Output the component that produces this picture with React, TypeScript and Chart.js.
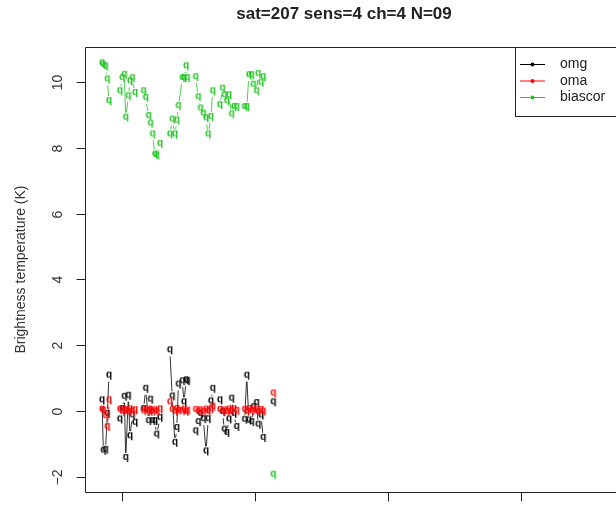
import React, { useEffect, useRef } from "react";
import { Chart, registerables } from "chart.js";

Chart.register(...registerables);

const titleText = "sat=207 sens=4 ch=4 N=09";
const yAxisTitle = "Brightness temperature (K)";
const yTicks = [-2, 0, 2, 4, 6, 8, 10];
const yTickLabels = ["\u22122", "0", "2", "4", "6", "8", "10"];
const xTicks = [0, 5, 10, 15];
const xTickLabels = ["0", "5", "10", "15"];
const seriesNames = ["omg", "oma", "biascor"];
const seriesColors = ["#000000", "#ff0000", "#1fc41f"];

// observation time (days); null values in the series below break the lines between passes
const obsDay = [
  -0.75, -0.70, -0.62, -0.55, -0.49, -0.30,
  -0.08, 0.01, 0.09, 0.14, 0.24, 0.30, 0.39, 0.49, 0.65,
  0.81, 0.89, 1.00, 1.07, 1.15, 1.24, 1.30, 1.43, 1.60,
  1.80, 1.89, 1.99, 2.06, 2.12, 2.27, 2.33, 2.41, 2.46, 2.60,
  2.77, 2.87, 2.95, 3.06, 3.16, 3.24, 3.34, 3.41, 3.55,
  3.68, 3.78, 3.85, 3.94, 4.02, 4.12, 4.21, 4.31, 4.45,
  4.61, 4.69, 4.77, 4.87, 4.94, 5.06, 5.12, 5.23, 5.31, 5.50,
  5.69,
];

const omg = [
  0.31, -1.22, -1.19, -0.10, 1.06, null,
  -0.27, 0.05, 0.42, -1.44, 0.45, -0.78, -0.15, -0.37, null,
  0.05, 0.66, -0.32, 0.33, -0.32, -0.32, -0.73, -0.22, null,
  1.83, 0.43, -0.98, -0.53, 0.79, 0.89, 0.25, 0.92, 0.89, null,
  -0.63, -0.35, -0.10, -0.26, -1.24, -0.26, 0.28, 0.66, null,
  0.31, -0.05, -0.58, -0.68, -0.27, 0.36, -0.10, -0.50, null,
  -0.28, 1.06, -0.30, -0.35, 0.10, 0.23, -0.43, -0.15, -0.83, null,
  0.25,
];

const oma = [
  0.03, 0.00, -0.17, -0.50, 0.31, null,
  0.03, -0.04, 0.02, 0.00, -0.03, 0.04, -0.02, 0.01, null,
  -0.02, 0.03, -0.01, 0.02, -0.04, 0.01, -0.03, 0.04, null,
  0.25, 0.02, -0.03, 0.05, 0.00, -0.02, 0.03, -0.04, 0.00, null,
  0.02, -0.03, 0.01, -0.04, 0.03, -0.02, 0.05, 0.12, null,
  0.02, -0.03, 0.01, -0.04, 0.03, -0.02, 0.04, -0.01, null,
  0.02, -0.03, 0.05, -0.02, 0.03, 0.01, -0.04, 0.02, -0.03, null,
  0.52,
];

const biascor = [
  10.55, 10.50, 10.45, 10.06, 9.40, null,
  9.70, 10.10, 10.20, 8.90, 9.55, 10.00, 10.10, 9.65, null,
  9.70, 9.50, 8.95, 8.72, 8.39, 7.78, 7.75, 8.10, null,
  8.39, 8.84, 8.39, 8.81, 9.25, 10.10, 10.10, 10.46, 10.10, null,
  10.13, 9.52, 9.18, 9.02, 8.88, 8.39, 8.92, 9.70, null,
  9.28, 9.78, 9.58, 9.40, 9.58, 9.00, 9.22, 9.22, null,
  9.22, 9.22, 10.19, 10.19, 9.90, 9.70, 10.23, 9.96, 10.13, null,
  -1.95,
];

const seriesValues = [omg, oma, biascor];

const FONT = '"Liberation Sans", Arial, Helvetica, sans-serif';

function makeQ(color: string): HTMLCanvasElement {
  const c = document.createElement("canvas");
  c.width = 8;
  c.height = 11;
  const g = c.getContext("2d")!;
  g.fillStyle = color;
  g.font = `bold 10px ${FONT}`;
  g.textAlign = "center";
  g.textBaseline = "alphabetic";
  g.fillText("q", 4, 7.2);
  return c;
}

// R "type = b": segments between consecutive points, with a gap around each point
const gapLinePlugin = {
  id: "gapLines",
  beforeDatasetsDraw(chart: any) {
    const { ctx, chartArea: a } = chart;
    const gap = 5.5;
    ctx.save();
    ctx.beginPath();
    ctx.rect(a.left, a.top, a.right - a.left, a.bottom - a.top);
    ctx.clip();
    ctx.lineWidth = 0.8;
    [2, 0, 1].forEach((di) => {
      const meta = chart.getDatasetMeta(di);
      const pts = meta.data;
      ctx.strokeStyle = seriesColors[di];
      for (let j = 0; j < pts.length - 1; j++) {
        const p = pts[j];
        const q = pts[j + 1];
        if (p.skip || q.skip) continue;
        const dx = q.x - p.x;
        const dy = q.y - p.y;
        const len = Math.hypot(dx, dy);
        if (len <= 2 * gap) continue;
        const ux = dx / len;
        const uy = dy / len;
        ctx.beginPath();
        ctx.moveTo(p.x + ux * gap, p.y + uy * gap);
        ctx.lineTo(q.x - ux * gap, q.y - uy * gap);
        ctx.stroke();
      }
    });
    ctx.restore();
  },
};

const decorPlugin = {
  id: "rdecor",
  afterDraw(chart: any) {
    const { ctx, chartArea: a, scales } = chart;
    const xs = scales.x;
    const ys = scales.y;
    const L = Math.round(a.left) + 0.5;
    const T = Math.round(a.top) + 0.5;
    const R = Math.round(a.right) + 0.5;
    const B = Math.round(a.bottom) + 0.5;
    ctx.save();
    ctx.strokeStyle = "#222";
    ctx.lineWidth = 1;
    ctx.beginPath();
    ctx.moveTo(L, T);
    ctx.lineTo(R, T);
    ctx.lineTo(R, B);
    ctx.lineTo(L, B);
    ctx.closePath();
    ctx.stroke();

    ctx.fillStyle = "#333";
    ctx.font = `14px ${FONT}`;
    ctx.textAlign = "center";
    ctx.textBaseline = "middle";
    yTicks.forEach((v, i) => {
      const y = Math.round(ys.getPixelForValue(v)) + 0.5;
      ctx.beginPath();
      ctx.moveTo(L - 9, y);
      ctx.lineTo(L, y);
      ctx.stroke();
      ctx.save();
      ctx.translate(58, y);
      ctx.rotate(-Math.PI / 2);
      ctx.fillText(yTickLabels[i], 0, 0);
      ctx.restore();
    });
    xTicks.forEach((v, i) => {
      const x = Math.round(xs.getPixelForValue(v)) + 0.5;
      ctx.beginPath();
      ctx.moveTo(x, B);
      ctx.lineTo(x, B + 9);
      ctx.stroke();
      ctx.textBaseline = "top";
      ctx.fillText(xTickLabels[i], x, B + 16);
    });

    // y axis title
    ctx.save();
    ctx.textBaseline = "middle";
    ctx.translate(21, (a.top + a.bottom) / 2);
    ctx.rotate(-Math.PI / 2);
    ctx.fillText(yAxisTitle, 0, 0);
    ctx.restore();

    // title
    ctx.fillStyle = "#222";
    ctx.font = `bold 17px ${FONT}`;
    ctx.textBaseline = "middle";
    ctx.fillText(titleText, 344, 14);

    // legend
    const lx = 515.5;
    const ly = T;
    const lw = R - lx;
    const lh = 69;
    ctx.fillStyle = "#fff";
    ctx.fillRect(lx, ly, lw, lh);
    ctx.strokeStyle = "#222";
    ctx.strokeRect(lx, ly, lw, lh);
    const rows = [64, 80.5, 97];
    seriesNames.forEach((name, i) => {
      const y = rows[i];
      ctx.strokeStyle = seriesColors[i];
      ctx.beginPath();
      ctx.moveTo(520, y + 0.5);
      ctx.lineTo(545, y + 0.5);
      ctx.stroke();
      ctx.fillStyle = seriesColors[i];
      ctx.beginPath();
      ctx.arc(532.5, y + 0.5, 2, 0, Math.PI * 2);
      ctx.fill();
      ctx.fillStyle = "#222";
      ctx.font = `14px ${FONT}`;
      ctx.textAlign = "left";
      ctx.textBaseline = "middle";
      ctx.fillText(name, 560, y + 0.5);
    });
    ctx.restore();
  },
};

export default function App() {
  const ref = useRef<HTMLCanvasElement | null>(null);
  useEffect(() => {
    if (!ref.current) return;
    const datasets = seriesNames.map((name, i) => ({
      label: name,
      data: obsDay.map((d, j) => ({ x: d, y: seriesValues[i][j] })),
      borderColor: seriesColors[i],
      backgroundColor: seriesColors[i],
      borderWidth: 1,
      showLine: false,
      pointStyle: makeQ(seriesColors[i]) as any,
      pointRadius: 4,
      pointHoverRadius: 4,
      spanGaps: false,
      order: i === 0 ? 2 : i === 1 ? 1 : 3,
    }));
    const chart = new Chart(ref.current, {
      type: "line",
      data: { datasets },
      options: {
        animation: false,
        responsive: false,
        devicePixelRatio: 1,
        events: [],
        layout: { padding: { left: 85, top: 47, right: 60, bottom: 48 } },
        plugins: {
          legend: { display: false },
          title: { display: false },
          tooltip: { enabled: false },
        },
        scales: {
          x: { type: "linear", min: -1.39, max: 18.72, display: false },
          y: { type: "linear", min: -2.46, max: 11.06, display: false },
        },
      },
      plugins: [gapLinePlugin, decorPlugin],
    });
    return () => chart.destroy();
  }, []);
  return (
    <div
      style={{
        position: "fixed",
        left: 0,
        top: 0,
        width: 616,
        height: 508,
        overflow: "hidden",
        background: "#fff",
      }}
    >
      <canvas ref={ref} width={680} height={540} style={{ display: "block" }} />
    </div>
  );
}
